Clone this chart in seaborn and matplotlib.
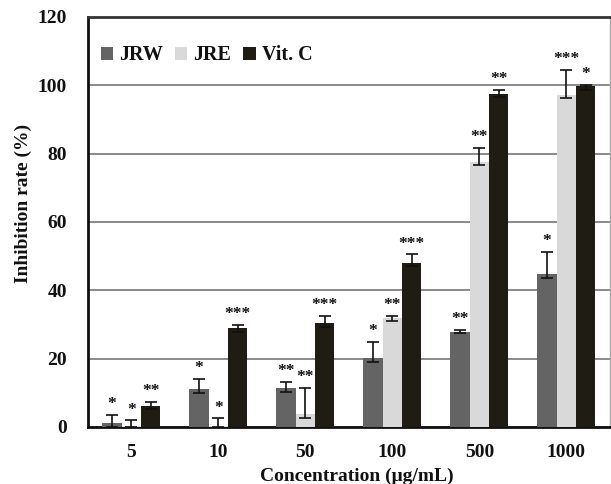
import matplotlib
matplotlib.use("Agg")
import matplotlib.pyplot as plt
import seaborn as sns
import pandas as pd
import numpy as np

concentrations = ["5", "10", "50", "100", "500", "1000"]
series = ["JRW", "JRE", "Vit. C"]

jrw = [1.2, 11.0, 11.5, 20.1, 27.9, 44.7]
jrw_lo = [1.2, 1.2, 1.3, 1.1, 0.5, 1.0]
jrw_hi = [2.3, 3.0, 1.6, 4.7, 0.5, 6.6]
jrw_sig = ["*", "*", "**", "*", "**", "*"]

jre = [0.3, 0.2, 3.8, 31.9, 77.6, 97.2]
jre_lo = [0.3, 0.2, 1.1, 0.9, 0.9, 1.0]
jre_hi = [1.6, 2.3, 7.7, 0.7, 4.0, 7.3]
jre_sig = ["*", "*", "**", "**", "**", "***"]

vitc = [6.2, 28.9, 30.5, 48.1, 97.5, 99.8]
vitc_lo = [1.0, 1.0, 1.2, 1.0, 0.8, 1.3]
vitc_hi = [1.1, 1.0, 2.1, 2.4, 1.1, 0.2]
vitc_sig = ["**", "***", "***", "***", "**", "*"]

colors = ["#646464", "#d9d9d9", "#1e1c13"]

sns.set_theme(style="white")
plt.rcParams["font.family"] = ["Liberation Serif", "DejaVu Serif"]
plt.rcParams["font.weight"] = "bold"

df = pd.DataFrame({
    "conc": concentrations * 3,
    "val": jrw + jre + vitc,
    "series": [s for s in series for _ in concentrations],
})

fig = plt.figure(figsize=(6.11, 4.84), dpi=100)
ax = fig.add_axes([0.144, 0.118, 0.854, 0.847])

sns.barplot(data=df, x="conc", y="val", hue="series", order=concentrations,
            hue_order=series, palette=colors, width=0.667, gap=0,
            errorbar=None, ax=ax, saturation=1, zorder=3, linewidth=0)

bar_containers = list(ax.containers)
lows = [jrw_lo, jre_lo, vitc_lo]
highs = [jrw_hi, jre_hi, vitc_hi]
sigs = [jrw_sig, jre_sig, vitc_sig]
vals = [jrw, jre, vitc]
for k, cont in enumerate(bar_containers):
    xs = [p.get_x() + p.get_width() / 2 for p in cont.patches]
    ax.errorbar(xs, vals[k], yerr=[lows[k], highs[k]], fmt="none",
                ecolor="#111111", elinewidth=1.2, capsize=4.5, capthick=1.2, zorder=4)
    for x, v, h, s in zip(xs, vals[k], highs[k], sigs[k]):
        ax.annotate(s, (x, v + h), xytext=(0, 2), textcoords="offset points",
                    ha="center", va="bottom", fontsize=12.5, fontweight="bold",
                    color="#111111", zorder=5)

ax.set_ylim(0, 120)
ax.set_xlim(-0.5, 5.5)
ax.set_yticks([0, 20, 40, 60, 80, 100, 120])
ax.yaxis.grid(True, color="#8a8a8a", linewidth=1.4, zorder=0)
ax.xaxis.grid(False)
ax.set_axisbelow(True)

ax.tick_params(axis="y", length=0, pad=15, labelsize=14)
ax.tick_params(axis="x", which="major", length=0, pad=12, labelsize=14)
ax.set_xticks(np.arange(0.5, 5.5, 1), minor=True)
ax.tick_params(axis="x", which="minor", direction="in", length=5, width=2, color="#111111")
for lab in ax.get_xticklabels() + ax.get_yticklabels():
    lab.set_fontweight("bold")
    lab.set_color("#111111")

for side in ["left", "bottom"]:
    ax.spines[side].set_color("#111111")
    ax.spines[side].set_linewidth(2)
ax.spines["top"].set_color("#333333")
ax.spines["top"].set_linewidth(2)
ax.spines["right"].set_color("#aaaaaa")
ax.spines["right"].set_linewidth(1)

ax.set_xlabel("Concentration (μg/mL)", fontsize=14, fontweight="bold", color="#111111",
              va="center")
ax.xaxis.set_label_coords(0.515, -0.12)
ax.set_ylabel("Inhibition rate (%)", fontsize=14, fontweight="bold", color="#111111",
              va="center")
ax.yaxis.set_label_coords(-0.1245, 0.544)

leg = ax.legend(loc="upper left", bbox_to_anchor=(0.01, 0.95), ncol=3, frameon=False,
                handlelength=0.6, handleheight=0.6, handletextpad=0.3,
                columnspacing=0.6, borderaxespad=0,
                prop={"family": "Liberation Serif", "weight": "bold", "size": 14.5})
for t in leg.get_texts():
    t.set_color("#111111")

fig.savefig("out.png", dpi=100)
